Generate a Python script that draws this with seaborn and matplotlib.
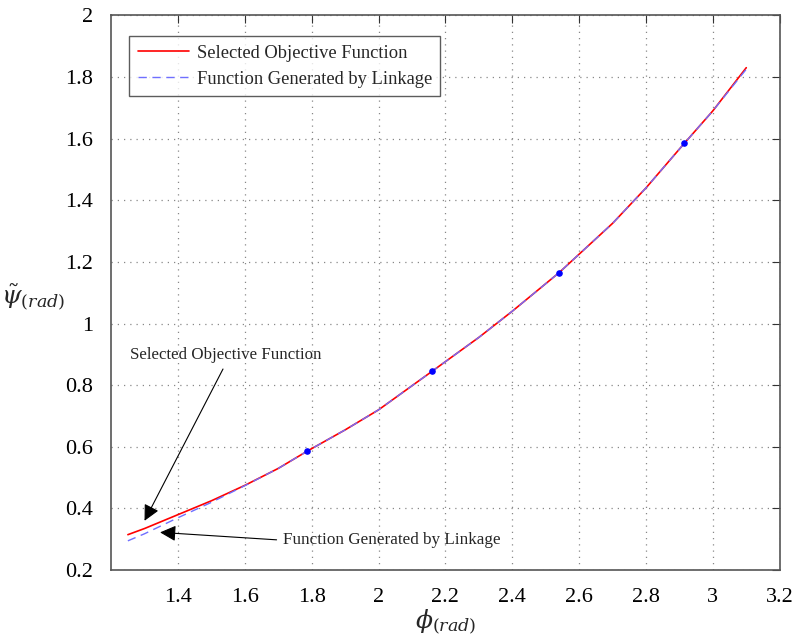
import seaborn as sns
import matplotlib.pyplot as plt
import numpy as np

# objective function (red) and linkage output (blue dashed)
phi = [1.25, 1.30, 1.40, 1.50, 1.60, 1.70, 1.785, 1.90, 2.00, 2.16, 2.30, 2.40, 2.54, 2.70, 2.80, 2.915, 3.00, 3.10]
psi_obj = [0.315, 0.335, 0.380, 0.425, 0.475, 0.530, 0.585, 0.655, 0.720, 0.845, 0.955, 1.040, 1.165, 1.325, 1.440, 1.585, 1.690, 1.830]
psi_link = [0.295, 0.318, 0.370, 0.420, 0.474, 0.530, 0.585, 0.655, 0.720, 0.845, 0.955, 1.040, 1.165, 1.325, 1.440, 1.585, 1.690, 1.825]
# precision points
prec_phi = [1.785, 2.16, 2.54, 2.915]
prec_psi = [0.585, 0.845, 1.165, 1.585]

sns.set_style("white")
plt.rcParams['font.family'] = ['Liberation Serif', 'DejaVu Serif']
plt.rcParams['mathtext.fontset'] = 'dejavuserif'

fig = plt.figure(figsize=(7.94, 6.37), dpi=100)
ax = fig.add_axes([0.14, 0.105, 0.842, 0.871])

sns.lineplot(x=phi, y=psi_obj, ax=ax, color="red", linewidth=1.2, label="Selected Objective Function")
sns.lineplot(x=phi, y=psi_link, ax=ax, color="#6f6fff", linewidth=1.0, linestyle=(0, (6, 4)),
             label="Function Generated by Linkage")
ax.scatter(prec_phi, prec_psi, color="blue", s=14, zorder=5)

ax.set_xlim(1.2, 3.2)
ax.set_ylim(0.2, 2.0)
ax.set_xticks(np.arange(1.4, 3.21, 0.2))
ax.set_yticks(np.arange(0.2, 2.01, 0.2))
ax.set_xticklabels(['1.4', '1.6', '1.8', '2', '2.2', '2.4', '2.6', '2.8', '3', '3.2'])
ax.set_yticklabels(['0.2', '0.4', '0.6', '0.8', '1', '1.2', '1.4', '1.6', '1.8', '2'])
ax.tick_params(direction='in', top=True, right=True, length=6, labelsize=16, pad=13, colors='#333333')
ax.tick_params(labelcolor='black')
ax.grid(True, linestyle=(0, (1, 4)), color='#888888', linewidth=0.9)
for s in ax.spines.values():
    s.set_color('#555555')
    s.set_linewidth(1.2)

ax.set_xlabel(r'$\phi_{(rad)}$', fontsize=18, labelpad=0)
ax.set_ylabel(r'$\tilde{\psi}_{(rad)}$', fontsize=18, rotation=0)
ax.yaxis.set_label_coords(-0.117, 0.465)

leg = ax.legend(loc='upper left', bbox_to_anchor=(0.027, 0.962), fontsize=13.3, frameon=True,
                fancybox=False, edgecolor='#333333', handlelength=2.8, handletextpad=0.4,
                borderpad=0.45, borderaxespad=0)
leg.get_frame().set_linewidth(1.0)

ax.annotate('Selected Objective Function', xy=(1.296, 0.352), xytext=(1.257, 0.897),
            fontsize=12.2, va='center', ha='left',
            arrowprops=dict(arrowstyle='-|>', color='black', lw=0.8, mutation_scale=24,
                            relpos=(0.5, 0.0)))
ax.annotate('Function Generated by Linkage', xy=(1.338, 0.323), xytext=(1.713, 0.297),
            fontsize=12.3, va='center', ha='left',
            arrowprops=dict(arrowstyle='-|>', color='black', lw=0.8, mutation_scale=24,
                            relpos=(0.0, 0.5)))

fig.savefig('out.png', dpi=100)
